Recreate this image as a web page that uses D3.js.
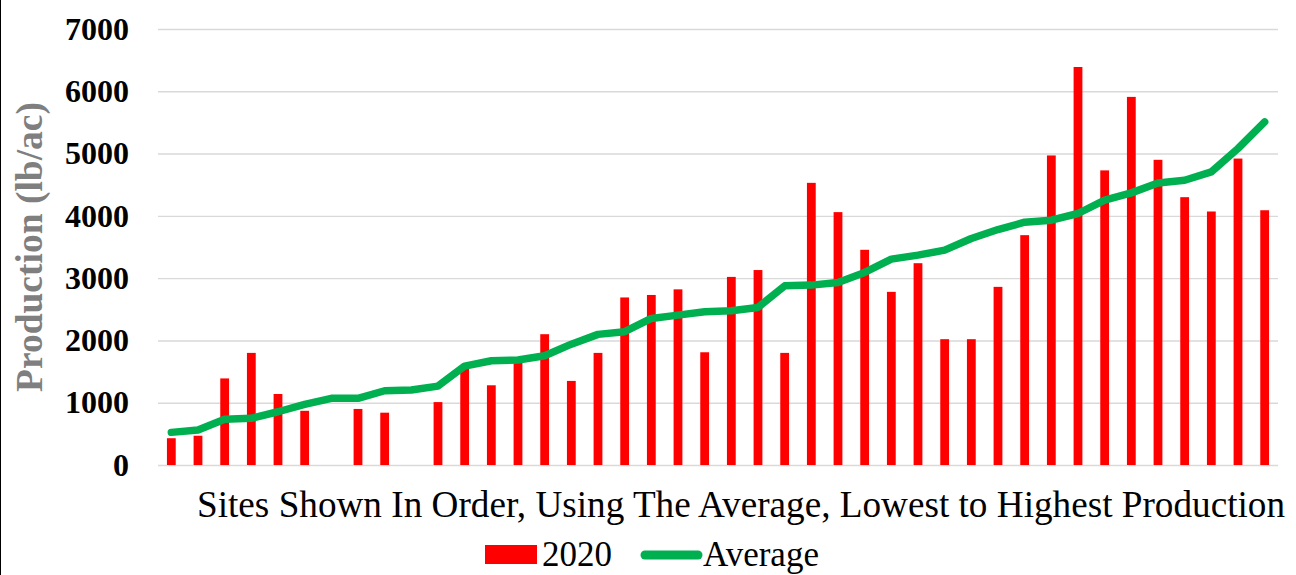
<!DOCTYPE html>
<html lang="en">
<head>
    <meta charset="UTF-8">
    <title>Production by site</title>
    <script src="https://d3js.org/d3.v7.min.js"></script>
    <style>
        html, body { margin: 0; padding: 0; background: #fff; }
        svg { display: block; }
        svg text { font-family: "Times New Roman", "Liberation Serif", Tinos, "DejaVu Serif", serif; }
    </style>
</head>
<body>
<div id="chart"></div>
<script>
    // sites, ordered by average production (lowest to highest)
    const sites = ["1","2","3","4","5","6","7","8","9","10","11","12","13","14",
        "15","16","17","18","19","20","21","22","23","24","25","26","27","28",
        "29","30","31","32","33","34","35","36","37","38","39","40","41","42"];

    // 2020 production (lb/ac), null = no bar
    const prod2020 = [430, 470, 1390, 1800, 1140, 870, null, 900, 840, null,
        1010, 1550, 1280, 1650, 2100, 1350, 1800, 2690, 2730, 2820,
        1810, 3020, 3130, 1800, 4530, 4060, 3455, 2780, 3240, 2020,
        2020, 2860, 3690, 4970, 6390, 4730, 5910, 4900, 4300, 4070,
        4920, 4090];

    // average production (lb/ac)
    const average = [524, 561, 733, 749, 855, 973, 1070, 1070, 1192, 1203,
        1267, 1588, 1674, 1685, 1754, 1940, 2097, 2140, 2353, 2406,
        2460, 2476, 2530, 2877, 2888, 2931, 3091, 3305, 3369, 3449,
        3636, 3780, 3898, 3931, 4038, 4252, 4369, 4529, 4572, 4706,
        5081, 5508];

    const yTicks = [0, 1000, 2000, 3000, 4000, 5000, 6000, 7000];

    const width = 1296, height = 575;
    const plotL = 158, plotR = 1278, plotT = 29, plotB = 465;

    const svg = d3.select("#chart").append("svg")
        .attr("width", width)
        .attr("height", height);

    // thin frame line on the left edge
    svg.append("line")
        .attr("x1", 0.5).attr("x2", 0.5)
        .attr("y1", 0).attr("y2", height)
        .attr("stroke", "#000").attr("stroke-width", 1);

    const x = d3.scaleBand()
        .domain(sites)
        .range([plotL, plotR])
        .paddingInner(0.67)
        .paddingOuter(0.335);

    const y = d3.scaleLinear()
        .domain([0, 7000])
        .range([plotB, plotT]);

    // gridlines + tick labels
    const yAxis = d3.axisLeft(y)
        .tickValues(yTicks)
        .tickSize(-(plotR - plotL))
        .tickPadding(29)
        .tickFormat(d3.format("d"));

    const gy = svg.append("g")
        .attr("transform", `translate(${plotL},0)`)
        .call(yAxis);
    gy.attr("font-family", null);
    gy.select(".domain").remove();
    gy.selectAll(".tick line")
        .attr("stroke", "#d9d9d9")
        .attr("stroke-width", 1.4);
    gy.selectAll(".tick text")
        .attr("font-weight", "bold")
        .attr("font-size", 32)
        .attr("fill", "#000");

    // bars
    svg.append("g").selectAll("rect")
        .data(sites.map((s, i) => ({ site: s, v: prod2020[i] })).filter(d => d.v != null))
        .enter()
        .append("rect")
        .attr("x", d => x(d.site))
        .attr("y", d => y(d.v))
        .attr("width", x.bandwidth())
        .attr("height", d => y(0) - y(d.v))
        .attr("fill", "#ff0000");

    // average line
    const line = d3.line()
        .x((d, i) => x(sites[i]) + x.bandwidth() / 2)
        .y(d => y(d));

    svg.append("path")
        .datum(average)
        .attr("d", line)
        .attr("fill", "none")
        .attr("stroke", "#00b050")
        .attr("stroke-width", 7.5)
        .attr("stroke-linejoin", "round")
        .attr("stroke-linecap", "round");

    // y title
    svg.append("text")
        .attr("transform", `translate(42,${(plotT + plotB) / 2}) rotate(-90)`)
        .attr("text-anchor", "middle")
        .attr("font-weight", "bold")
        .attr("font-size", 37.5)
        .attr("fill", "#7f7f7f")
        .text("Production (lb/ac)");

    // x title
    svg.append("text")
        .attr("x", 197)
        .attr("y", 517)
        .attr("textLength", 1088)
        .attr("lengthAdjust", "spacingAndGlyphs")
        .attr("font-size", 37)
        .attr("fill", "#000")
        .text("Sites Shown In Order, Using The Average, Lowest to Highest Production");

    // legend
    const legend = svg.append("g")
        .attr("font-size", 35)
        .attr("fill", "#000");

    legend.append("rect")
        .attr("x", 485).attr("y", 545)
        .attr("width", 52).attr("height", 19)
        .attr("fill", "#ff0000");
    legend.append("text")
        .attr("x", 542).attr("y", 566)
        .text("2020");

    legend.append("line")
        .attr("x1", 645).attr("x2", 698)
        .attr("y1", 555).attr("y2", 555)
        .attr("stroke", "#00b050")
        .attr("stroke-width", 9)
        .attr("stroke-linecap", "round");
    legend.append("text")
        .attr("x", 703).attr("y", 566)
        .text("Average");
</script>
</body>
</html>
